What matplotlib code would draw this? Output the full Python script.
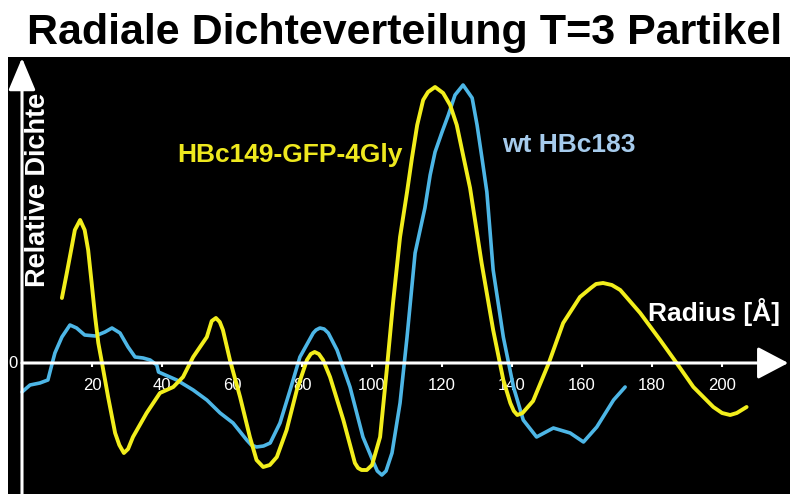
import matplotlib
matplotlib.use("Agg")
import matplotlib.pyplot as plt

plt.rcParams['font.family'] = ['Liberation Sans', 'DejaVu Sans']

# radius in Angstrom, relative density (arbitrary units)
yellow_r = [11.4, 12.8, 14.2, 15.1, 16.6, 17.9, 18.9, 19.9, 20.9, 21.8, 22.7, 24.6, 26.6, 27.8,
            29.1, 30.3, 31.7, 35.6, 39.4, 43.2, 46.0, 48.9, 52.8, 54.2, 55.4, 56.5, 57.4, 59.4,
            62.3, 65.1, 67.0, 68.9, 70.8, 72.8, 75.6, 78.5, 81.4, 82.5, 83.6, 84.8, 86.0, 88.0,
            91.8, 95.1, 96.0, 97.0, 98.5, 100.0, 102.3, 104.2, 106.0, 108.0, 110.0, 111.4, 112.9,
            114.6, 116.0, 118.0, 120.3, 122.3, 124.2, 126.0, 128.0, 131.3, 134.6, 137.5, 139.5,
            140.5, 141.5, 143.0, 146.0, 150.5, 154.6, 159.4, 162.5, 164.0, 166.0, 168.5, 170.9,
            176.6, 182.3, 187.0, 191.8, 197.5, 200.0, 202.3, 204.2, 207.0]
yellow_d = [0.65, 0.90, 1.16, 1.33, 1.43, 1.33, 1.13, 0.80, 0.46, 0.20, 0.03, -0.34, -0.70, -0.82,
            -0.90, -0.86, -0.74, -0.50, -0.30, -0.24, -0.14, 0.06, 0.26, 0.42, 0.45, 0.41, 0.33, 0.03,
            -0.34, -0.74, -0.97, -1.04, -1.02, -0.94, -0.67, -0.27, 0.03, 0.09, 0.11, 0.09, 0.03, -0.14,
            -0.57, -1.00, -1.05, -1.07, -1.07, -1.02, -0.74, -0.07, 0.60, 1.26, 1.71, 2.05, 2.38,
            2.63, 2.71, 2.76, 2.70, 2.58, 2.38, 2.08, 1.75, 1.00, 0.33, -0.17, -0.40,
            -0.48, -0.52, -0.50, -0.38, 0.00, 0.40, 0.66, 0.75, 0.79, 0.80, 0.78, 0.73,
            0.50, 0.23, 0.00, -0.24, -0.44, -0.50, -0.52, -0.50, -0.44]

blue_r = [0.0, 2.3, 5.1, 7.4, 8.5, 9.4, 11.4, 13.7, 15.6, 17.9, 20.9, 23.7, 25.7, 28.0, 30.3,
          32.3, 34.6, 36.6, 38.5, 39.0, 44.2, 48.9, 52.8, 56.6, 60.3, 64.2, 65.5, 67.0, 69.0,
          70.9, 73.7, 76.6, 79.4, 83.2, 84.0, 85.1, 86.3, 87.5, 90.0, 93.7, 97.4, 100.5, 101.5,
          102.8, 104.0, 105.7, 108.0, 110.0, 112.3, 115.1, 116.6, 118.0, 120.0, 121.8, 123.7,
          126.0, 128.6, 130.0, 131.4, 132.8, 134.6, 137.5, 140.4, 143.2, 147.0, 151.8, 156.6,
          160.4, 164.2, 169.0, 172.3]
blue_d = [-0.29, -0.22, -0.20, -0.17, -0.02, 0.10, 0.26, 0.38, 0.35, 0.28, 0.27, 0.31, 0.35, 0.30, 0.16,
          0.06, 0.05, 0.03, -0.02, -0.09, -0.17, -0.27, -0.37, -0.50, -0.60, -0.77, -0.82, -0.84, -0.83,
          -0.80, -0.60, -0.27, 0.06, 0.30, 0.33, 0.35, 0.34, 0.30, 0.13, -0.24, -0.74, -1.00, -1.08,
          -1.12, -1.08, -0.90, -0.40, 0.26, 1.10, 1.55, 1.88, 2.11, 2.31, 2.48, 2.68,
          2.78, 2.65, 2.38, 2.05, 1.71, 0.93, 0.26, -0.24, -0.57, -0.74, -0.65, -0.70,
          -0.79, -0.64, -0.37, -0.24]

x_ticks = [20, 40, 60, 80, 100, 120, 140, 160, 180, 200]

fig = plt.figure(figsize=(7.95, 4.94), dpi=100, facecolor='white')
ax = fig.add_axes([8 / 795, 0, 782 / 795, 1 - 57 / 494])
ax.set_facecolor('black')
ax.set_xlim(-4, 219.4)
ax.set_ylim(-1.31, 3.06)

ax.plot(blue_r, blue_d, color='#4db6e6', lw=2.6, solid_capstyle='round', solid_joinstyle='round')
ax.plot(yellow_r, yellow_d, color='#f2ee1c', lw=2.8, solid_capstyle='round', solid_joinstyle='round')

# axes drawn as white arrows
ax.annotate('', xy=(218.9, 0), xytext=(0, 0),
            arrowprops=dict(arrowstyle='-|>,head_length=0.95,head_width=0.5', mutation_scale=20,
                            color='white', lw=2.2, shrinkA=0, shrinkB=0))
ax.annotate('', xy=(0, 3.05), xytext=(0, -1.31),
            arrowprops=dict(arrowstyle='-|>,head_length=1.0,head_width=0.42', mutation_scale=20,
                            color='white', lw=2.2, shrinkA=0, shrinkB=0))

for s in ax.spines.values():
    s.set_visible(False)
ax.spines['bottom'].set_position(('data', 0))
ax.set_xticks(x_ticks)
ax.set_xticklabels([str(t) for t in x_ticks])
ax.tick_params(axis='x', colors='white', length=3, width=1.5, pad=8, labelsize=12)
ax.set_yticks([])

ax.text(-2.7, 0, '0', color='white', fontsize=12, ha='center', va='center')

fig.text(0.509, 0.934, 'Radiale Dichteverteilung T=3 Partikel', fontsize=31, fontweight='bold',
         ha='center', va='center', color='black')
fig.text(0.048, 0.615, 'Relative Dichte', fontsize=19.5, fontweight='bold', rotation=90,
         color='white', ha='center', va='center')
fig.text(648 / 795, 1 - 312 / 494, 'Radius [Å]', fontsize=19, fontweight='bold', color='white',
         ha='left', va='center')
fig.text(177 / 795, 1 - 155 / 494, 'HBc149-GFP-4Gly', fontsize=19, fontweight='bold',
         color='#eee81e', ha='left', va='center')
fig.text(502 / 795, 1 - 145 / 494, 'wt HBc183', fontsize=19, fontweight='bold',
         color='#a6cbec', ha='left', va='center')

fig.savefig('out.png', dpi=100, facecolor='white')
